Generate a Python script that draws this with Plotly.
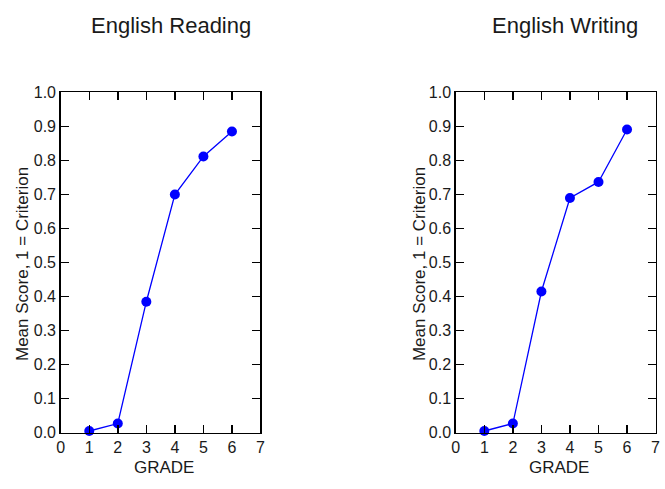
import plotly.graph_objects as go

grades = [1, 2, 3, 4, 5, 6]
reading = [0.005, 0.027, 0.385, 0.700, 0.812, 0.885]
writing = [0.005, 0.027, 0.415, 0.690, 0.737, 0.891]
titles = ["English Reading", "English Writing"]
y_title = "Mean Score, 1 = Criterion"
x_title = "GRADE"
y_ticks = [i / 10 for i in range(11)]
x_ticks = list(range(8))

W, H = 665, 489
FONT = "Liberation Sans, Arial, sans-serif"
BLUE = "#0000ff"

def px_x(p):
    return p / W

def px_y(p):
    return 1 - p / H

fig = go.Figure()
for i, (vals, name) in enumerate([(reading, titles[0]), (writing, titles[1])]):
    fig.add_trace(go.Scatter(
        x=grades, y=vals, mode="lines+markers",
        line=dict(color=BLUE, width=1.3),
        marker=dict(color=BLUE, size=10),
        cliponaxis=False, showlegend=False, hoverinfo="skip",
        xaxis="x" if i == 0 else "x2", yaxis="y" if i == 0 else "y2",
        name=name,
    ))

axis_common = dict(
    showline=True, linecolor="black", linewidth=1.5, mirror="ticks",
    ticks="inside", ticklen=8, tickwidth=1.5, tickcolor="black",
    showgrid=False, zeroline=False,
    tickfont=dict(family=FONT, size=16, color="#1a1a1a"),
)

ydom = [px_y(440), px_y(87.5)]
dom1 = [px_x(57.5), px_x(260)]
dom2 = [px_x(458), px_x(660.5)]

fig.update_layout(
    width=W, height=H,
    margin=dict(l=0, r=0, t=0, b=0),
    paper_bgcolor="white", plot_bgcolor="white",
    font=dict(family=FONT, color="#1a1a1a"),
    hovermode=False,
    xaxis=dict(domain=dom1, range=[0, 7], tickvals=x_ticks, anchor="y", **axis_common),
    yaxis=dict(domain=ydom, range=[0, 1], tickvals=y_ticks, tickformat=".1f", anchor="x", **axis_common),
    xaxis2=dict(domain=dom2, range=[0, 7], tickvals=x_ticks, anchor="y2", **axis_common),
    yaxis2=dict(domain=ydom, range=[0, 1], tickvals=y_ticks, tickformat=".1f", anchor="x2", **axis_common),
)

annots = []
for cx, t in [(169, titles[0]), (569, titles[1])]:
    annots.append(dict(text=t, x=px_x(cx), y=px_y(18), xref="paper", yref="paper",
                       xanchor="center", yanchor="middle", showarrow=False,
                       font=dict(family=FONT, size=22, color="#1a1a1a")))
for cx in [19.5, 421]:
    annots.append(dict(text=y_title, x=px_x(cx), y=px_y(265), xref="paper", yref="paper",
                       xanchor="center", yanchor="middle", showarrow=False, textangle=-90,
                       font=dict(family=FONT, size=17, color="#1a1a1a")))
for cx in [162.5, 562.5]:
    annots.append(dict(text=x_title, x=px_x(cx), y=px_y(476), xref="paper", yref="paper",
                       xanchor="center", yanchor="middle", showarrow=False,
                       font=dict(family=FONT, size=17, color="#1a1a1a")))
fig.update_layout(annotations=annots)

fig.write_html(
    "out.html",
    config={"displayModeBar": False, "staticPlot": True},
    post_script="document.body.style.margin='0';document.body.style.overflow='hidden';",
)
